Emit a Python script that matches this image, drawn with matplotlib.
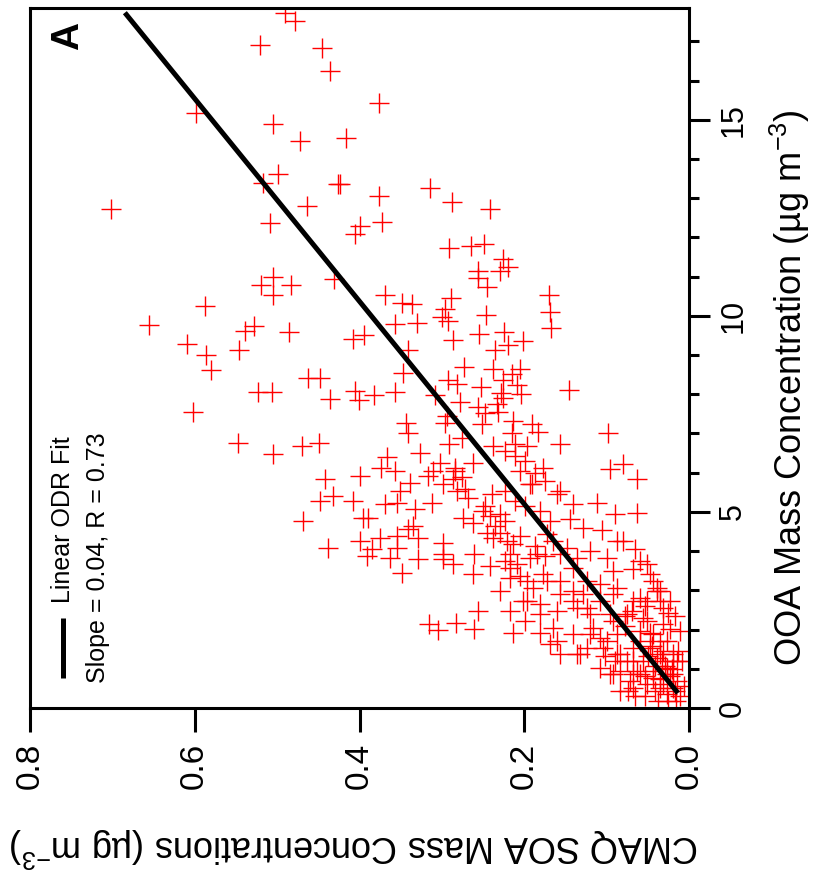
import numpy as np
import matplotlib.pyplot as plt

plt.rcParams['font.family'] = ['Liberation Sans', 'DejaVu Sans']
plt.rcParams['mathtext.fontset'] = 'custom'
plt.rcParams['mathtext.rm'] = 'Liberation Sans'
plt.rcParams['mathtext.it'] = 'Liberation Sans'

# CMAQ SOA (ug m-3) and OOA (ug m-3)
soa = [0.490, 0.478, 0.521, 0.446, 0.436, 0.376, 0.599, 0.505, 0.472, 0.416,
       0.499, 0.517, 0.426, 0.424, 0.702, 0.464, 0.376, 0.509, 0.373, 0.399,
       0.405, 0.314, 0.288, 0.242,
       0.505, 0.520, 0.483, 0.505, 0.431, 0.369, 0.588, 0.656, 0.539, 0.528,
       0.486, 0.408, 0.395, 0.357, 0.609, 0.586, 0.546, 0.580, 0.463, 0.448,
       0.523, 0.506, 0.436, 0.405, 0.401, 0.382, 0.357, 0.602, 0.548, 0.505,
       0.470, 0.449, 0.367, 0.374, 0.399, 0.442,
       0.291, 0.265, 0.249, 0.226, 0.220, 0.256, 0.229, 0.256, 0.245, 0.170,
       0.169, 0.168, 0.289, 0.336, 0.348, 0.296, 0.300, 0.293, 0.246, 0.330,
       0.286, 0.255, 0.225, 0.220, 0.202, 0.236, 0.341, 0.347, 0.273, 0.238,
       0.205, 0.215, 0.293, 0.282, 0.253, 0.226, 0.209, 0.228, 0.226, 0.204,
       0.146, 0.308, 0.278, 0.256, 0.233, 0.248, 0.232, 0.294, 0.296, 0.344,
       0.341, 0.251, 0.214, 0.191, 0.183, 0.098, 0.215, 0.276, 0.291, 0.238,
       0.211, 0.197, 0.157,
       0.432, 0.448, 0.408, 0.469, 0.369, 0.354, 0.339, 0.311, 0.333, 0.351,
       0.312, 0.286, 0.284, 0.299, 0.282, 0.268, 0.262, 0.239, 0.250, 0.390,
       0.396, 0.335, 0.341, 0.274, 0.262, 0.245, 0.238, 0.375, 0.354, 0.399,
       0.329, 0.299, 0.438, 0.385, 0.391, 0.363, 0.354, 0.329, 0.299, 0.286,
       0.261, 0.262, 0.242, 0.348, 0.256, 0.283, 0.316, 0.305, 0.261,
       0.096, 0.080, 0.063, 0.191, 0.205, 0.177, 0.157, 0.141, 0.112, 0.090,
       0.063, 0.144, 0.129, 0.106, 0.080, 0.066, 0.051, 0.221, 0.217, 0.209,
       0.185, 0.165, 0.148, 0.136, 0.120, 0.100, 0.092, 0.068, 0.044, 0.039,
       0.059, 0.035, 0.217, 0.197, 0.177, 0.157, 0.141, 0.129, 0.108, 0.092,
       0.197, 0.181, 0.160, 0.136, 0.120, 0.096, 0.075, 0.056, 0.032, 0.217,
       0.199, 0.214, 0.181, 0.160, 0.136, 0.117, 0.108, 0.087, 0.068, 0.047,
       0.032, 0.019, 0.056, 0.075, 0.096, 0.068, 0.044, 0.027, 0.015, 0.035,
       0.051, 0.027, 0.019, 0.063, 0.039, 0.087, 0.124, 0.104, 0.157, 0.169,
       0.059, 0.050, 0.041, 0.029, 0.023, 0.017, 0.011, 0.025, 0.041, 0.053,
       0.072, 0.084, 0.066, 0.035, 0.021, 0.047, 0.035, 0.013, 0.008, 0.090,
       0.102, 0.078, 0.069, 0.053, 0.025,
       0.229, 0.299, 0.214, 0.217, 0.193, 0.193, 0.160, 0.172, 0.157, 0.141,
       0.124, 0.087, 0.059, 0.047, 0.039, 0.032, 0.051, 0.068, 0.087, 0.108,
       0.124, 0.141, 0.157, 0.172, 0.189, 0.202, 0.181, 0.165, 0.141, 0.120,
       0.100, 0.084, 0.068, 0.059, 0.044, 0.027, 0.035, 0.019, 0.027, 0.044,
       0.051, 0.092, 0.078, 0.132, 0.108, 0.092, 0.068, 0.032, 0.019, 0.015,
       0.284, 0.276, 0.272, 0.248, 0.242, 0.236, 0.229, 0.223, 0.211, 0.199,
       0.187, 0.175, 0.223, 0.211, 0.199, 0.181, 0.169, 0.223, 0.205, 0.187,
       0.175, 0.223, 0.205, 0.229,
       0.084, 0.074, 0.053, 0.038, 0.016, 0.006, 0.033, 0.045, 0.059, 0.023,
       0.011, 0.017, 0.035, 0.023,
       0.327, 0.302, 0.317, 0.357]
ooa = [17.73, 17.53, 16.91, 16.84, 16.25, 15.43, 15.18, 14.90, 14.46, 14.54,
       13.62, 13.39, 13.37, 13.37, 12.73, 12.81, 13.06, 12.37, 12.40, 12.30,
       12.09, 13.27, 12.91, 12.73,
       10.99, 10.79, 10.79, 10.54, 10.94, 10.54, 10.26, 9.77, 9.62, 9.74,
       9.59, 9.41, 9.52, 9.80, 9.29, 9.01, 9.13, 8.62, 8.42, 8.42,
       8.06, 8.06, 7.88, 8.09, 7.86, 7.98, 8.06, 7.55, 6.76, 6.48,
       6.68, 6.76, 6.40, 6.12, 5.92, 5.84,
       11.73, 11.79, 11.84, 11.45, 11.25, 11.15, 11.15, 10.97, 10.74, 10.54,
       10.10, 9.69, 10.46, 10.31, 10.33, 10.18, 9.97, 9.87, 10.03, 9.82,
       9.39, 9.54, 9.59, 9.26, 9.36, 9.13, 9.13, 8.55, 8.70, 8.65,
       8.65, 8.52, 8.37, 8.27, 8.19, 8.37, 8.24, 8.04, 7.91, 8.01,
       8.11, 7.98, 7.81, 7.68, 7.76, 7.53, 7.55, 7.45, 7.27, 7.27,
       7.02, 7.24, 7.32, 7.24, 7.04, 7.02, 7.02, 6.89, 6.73, 6.68,
       6.73, 6.68, 6.73,
       5.41, 5.28, 5.28, 4.77, 5.20, 5.23, 5.74, 6.05, 5.08, 5.54,
       5.23, 5.84, 6.12, 5.71, 5.54, 5.36, 6.25, 5.46, 5.03, 4.85,
       4.85, 4.64, 4.57, 4.85, 4.72, 4.46, 4.34, 4.34, 4.39, 4.26,
       4.34, 4.21, 4.08, 4.06, 3.88, 3.83, 4.08, 3.80, 3.80, 3.67,
       3.93, 3.42, 3.62, 3.44, 2.47, 2.17, 2.14, 1.99, 2.02,
       6.10, 6.22, 5.84, 5.71, 6.05, 6.12, 5.54, 5.20, 5.23, 4.95,
       4.97, 4.82, 4.59, 4.54, 4.26, 4.06, 3.67, 4.26, 3.93, 3.67,
       3.93, 4.26, 4.08, 3.83, 4.01, 3.83, 3.49, 3.55, 3.24, 2.98,
       2.81, 2.73, 3.32, 3.24, 3.42, 3.24, 2.98, 2.91, 3.16, 2.91,
       2.73, 2.65, 2.47, 2.55, 2.40, 2.40, 2.40, 2.30, 2.14, 2.47,
       2.22, 1.91, 1.91, 1.71, 1.38, 2.04, 1.79, 1.89, 1.53, 1.53,
       1.45, 1.20, 1.20, 1.20, 0.87, 0.87, 0.94, 0.87, 0.69, 0.51,
       0.61, 0.36, 0.51, 0.94, 1.28, 1.38, 1.53, 1.53, 1.38, 1.63,
       1.71, 1.33, 1.07, 1.07, 0.82, 0.43, 0.31, 0.18, 0.43, 0.82,
       0.69, 0.43, 0.31, 0.74, 0.99, 1.91, 1.71, 1.45, 1.20, 1.20,
       1.33, 2.09, 2.47, 2.60, 2.42,
       4.95, 3.93, 4.18, 3.57, 3.83, 5.71, 5.46, 4.44, 3.93, 3.57,
       3.24, 4.26, 3.75, 3.42, 3.06, 2.55, 2.73, 2.73, 3.06, 2.73,
       2.55, 2.73, 2.91, 3.24, 3.06, 2.73, 2.40, 2.04, 1.89, 1.89,
       1.71, 1.38, 1.20, 0.87, 0.77, 1.02, 1.38, 1.38, 1.71, 1.89,
       2.22, 2.22, 2.35, 1.38, 1.02, 0.87, 0.51, 0.61, 0.87, 1.20,
       6.05, 5.90, 5.59, 5.15, 4.90, 4.64, 4.46, 6.56, 6.43, 6.30,
       5.99, 5.79, 5.54, 5.28, 5.15, 5.03, 4.77, 4.77, 4.39, 4.13,
       3.88, 3.75, 3.37, 2.98,
       0.94, 0.43, 0.31, 0.18, 0.18, 0.56, 1.20, 1.58, 1.96, 2.02,
       1.96, 2.35, 2.98, 2.73,
       6.51, 6.25, 5.92, 6.05]

# linear ODR fit: SOA = slope * OOA + intercept
fit_slope = 0.0387
fit_intercept = -0.0013
fit_ooa = [0.38, 17.73]

fig = plt.figure(figsize=(8.23, 8.85), dpi=100)
ax = fig.add_axes([30 / 823, 1 - 708 / 885, 659 / 823, 700 / 885])

ax.plot(soa, ooa, linestyle='none', marker='+', color='#ff0000',
        markersize=14, markeredgewidth=1.0)
fit_soa = [fit_slope * v + fit_intercept for v in fit_ooa]
ax.plot(fit_soa, fit_ooa, color='black', linewidth=3.6, solid_capstyle='butt')

ax.set_xlim(0.8, 0.0)
ax.set_ylim(0, 17.85)
ax.set_xticks([0.8, 0.6, 0.4, 0.2, 0.0])
ax.set_xticklabels(['0.8', '0.6', '0.4', '0.2', '0.0'])
ax.set_yticks([0, 5, 10, 15])
ax.set_yticks(np.arange(0, 18, 1), minor=True)
ax.yaxis.tick_right()
ax.yaxis.set_label_position('right')

for s in ax.spines.values():
    s.set_linewidth(2.2)

ax.tick_params(axis='x', direction='out', length=17, width=2.2, pad=8,
               labelsize=24, labelrotation=90)
ax.tick_params(axis='y', which='major', direction='out', length=15, width=2.2,
               pad=6, labelsize=22, labelrotation=90)
ax.tick_params(axis='y', which='minor', direction='out', length=7.5, width=2.2)
for lab in ax.get_yticklabels():
    lab.set_va('center')

ax.set_xlabel('CMAQ SOA Mass Concentrations (µg m$^{-3}$)', fontsize=26,
              rotation=180, labelpad=26)
ax.set_ylabel('OOA Mass Concentration (µg m$^{-3}$)', fontsize=26,
              rotation=90, labelpad=14)
ax.xaxis.label.set_x(0.493)
ax.yaxis.label.set_y(0.458)

# legend drawn by hand, rotated like the rest of the panel
ax.plot([0.050, 0.050], [0.043, 0.129], transform=ax.transAxes,
        color='black', linewidth=3.6, solid_capstyle='butt')
ax.text(0.050, 0.150, 'Linear ODR Fit', transform=ax.transAxes,
        rotation=90, ha='center', va='bottom', fontsize=18)
ax.text(0.103, 0.036, 'Slope = 0.04, R = 0.73', transform=ax.transAxes,
        rotation=90, ha='center', va='bottom', fontsize=18)
ax.text(0.058, 0.960, 'A', transform=ax.transAxes, rotation=90,
        ha='center', va='center', fontsize=28, fontweight='bold')

fig.savefig('out.png', dpi=100)
